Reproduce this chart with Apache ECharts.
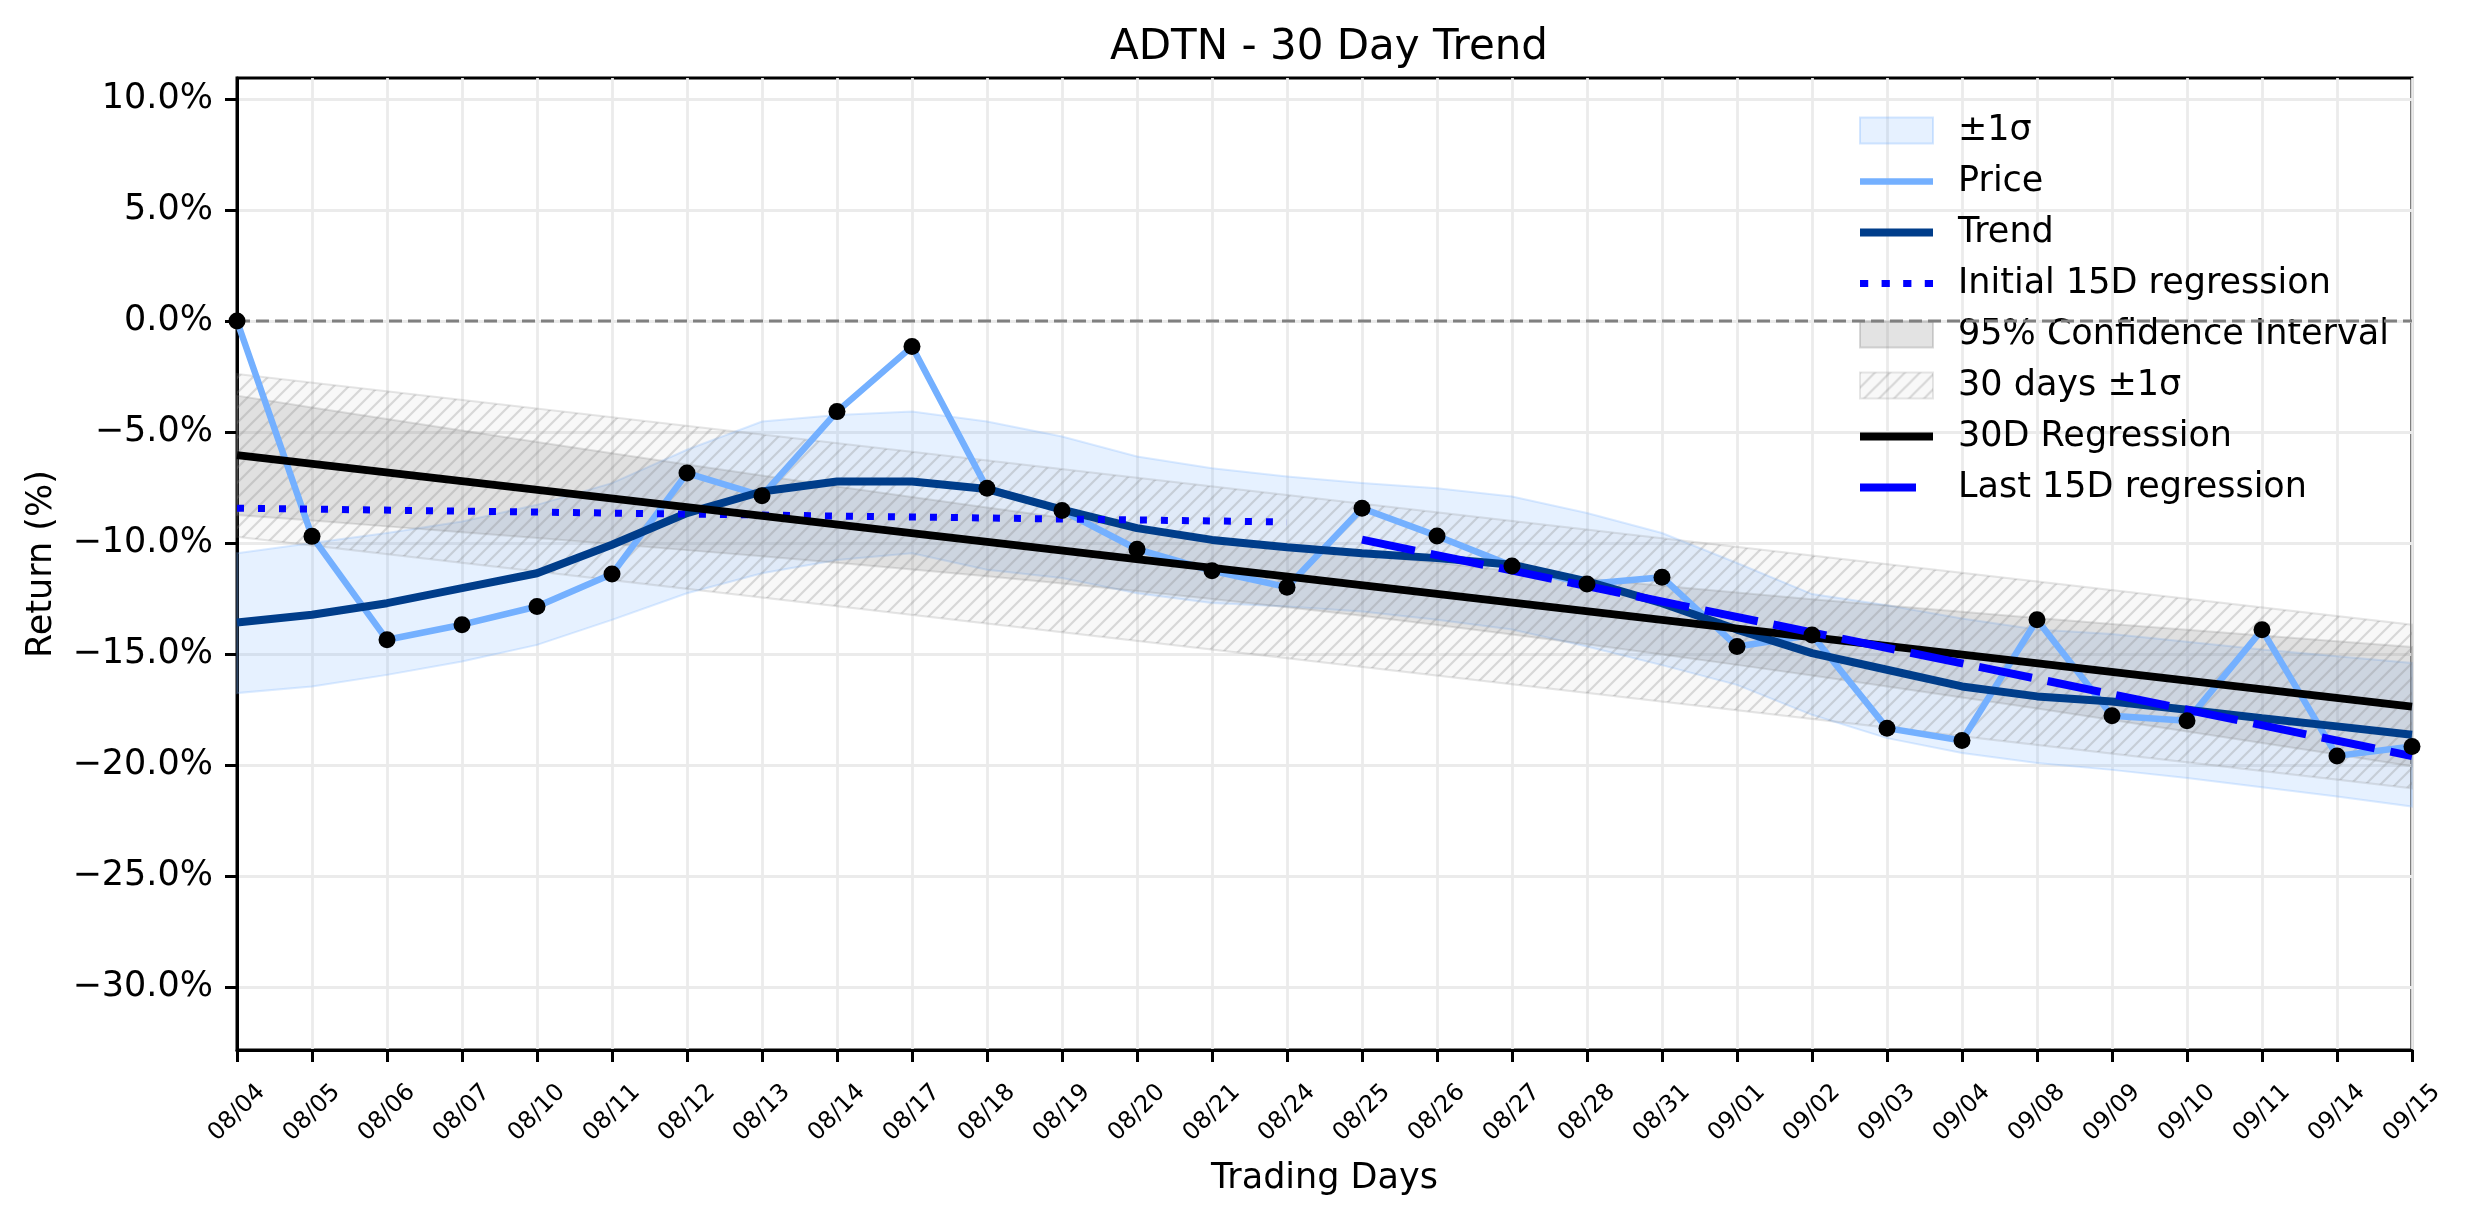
<!DOCTYPE html>
<html><head><meta charset="utf-8">
<script src="https://cdn.jsdelivr.net/npm/echarts@6/dist/echarts.min.js"></script>
<style>html,body{margin:0;padding:0;background:#fff}#c{width:2474px;height:1224px}</style>
</head><body><div id="c"></div>
<script>
// ---- data ----
const categories = ['08/04','08/05','08/06','08/07','08/10','08/11','08/12','08/13','08/14','08/17','08/18','08/19','08/20','08/21','08/24','08/25','08/26','08/27','08/28','08/31','09/01','09/02','09/03','09/04','09/08','09/09','09/10','09/11','09/14','09/15'];
const price = [0, -9.7, -14.36, -13.68, -12.86, -11.4, -6.85, -7.87, -4.08, -1.15, -7.53, -8.53, -10.28, -11.25, -11.99, -8.43, -9.68, -11.03, -11.85, -11.54, -14.66, -14.14, -18.34, -18.9, -13.46, -17.78, -18.01, -13.91, -19.59, -19.17];
const trend = [-13.58, -13.23, -12.71, -12.03, -11.36, -10.08, -8.65, -7.68, -7.23, -7.23, -7.57, -8.5, -9.33, -9.86, -10.19, -10.46, -10.68, -10.98, -11.73, -12.71, -13.9, -14.96, -15.71, -16.46, -16.91, -17.14, -17.51, -17.89, -18.26, -18.64];
const sigmaUpper = [-10.46, -10.0, -9.55, -9.03, -8.28, -7.3, -5.8, -4.53, -4.23, -4.08, -4.53, -5.2, -6.1, -6.63, -7.0, -7.3, -7.53, -7.9, -8.65, -9.55, -10.9, -12.3, -12.8, -13.4, -13.9, -14.1, -14.45, -14.8, -15.1, -15.4];
const sigmaLower = [-16.76, -16.46, -15.94, -15.34, -14.59, -13.46, -12.26, -11.36, -10.76, -10.46, -11.2, -11.58, -12.26, -12.7, -12.86, -13.08, -13.46, -13.9, -14.66, -15.5, -16.39, -17.74, -18.79, -19.46, -19.91, -20.22, -20.59, -21.0, -21.42, -21.87];
const ciUpper = [-3.36, -3.89, -4.41, -4.93, -5.45, -5.96, -6.46, -6.96, -7.45, -7.93, -8.40, -8.86, -9.30, -9.72, -10.13, -10.52, -10.89, -11.26, -11.60, -11.92, -12.23, -12.53, -12.82, -13.10, -13.38, -13.65, -13.91, -14.17, -14.43, -14.68];
const ciLower = [-8.74, -8.99, -9.25, -9.51, -9.77, -10.04, -10.32, -10.60, -10.89, -11.19, -11.50, -11.82, -12.16, -12.52, -12.89, -13.28, -13.69, -14.12, -14.56, -15.02, -15.49, -15.97, -16.46, -16.96, -17.46, -17.97, -18.49, -19.01, -19.53, -20.06];
const reg30Ends = [-6.04, -17.37];          // first day, last day
const band30UpperEnds = [-2.38, -13.68];
const band30LowerEnds = [-9.72, -21.05];
const initialRegEnds = [-8.43, -9.05];      // 08/04 .. 08/24
const lastRegEnds = [-9.85, -19.6];         // 08/25 .. 09/15
const yTickValues = [-30, -25, -20, -15, -10, -5, 0, 5, 10];

// ---- helpers ----
const FONT = 'DejaVu Sans';
const last = categories.length - 1;
const allIdx = categories.map((_, i) => i);

const T = 15;
const hc = document.createElement('canvas');
hc.width = T; hc.height = T;
const g = hc.getContext('2d');
g.fillStyle = 'rgba(128,128,128,0.06)'; g.fillRect(0, 0, T, T);
g.strokeStyle = 'rgba(128,128,128,0.28)'; g.lineWidth = 2.2;
g.beginPath();
g.moveTo(-1, T + 1); g.lineTo(T + 1, -1);
g.moveTo(-T / 2, T / 2); g.lineTo(T / 2, -T / 2);
g.moveTo(T / 2, T * 1.5); g.lineTo(T * 1.5, T / 2);
g.stroke();
const hatch = { image: hc, repeat: 'repeat' };

function band(name, xs, upper, lower, fill, stroke, z) {
  return {
    name: name, type: 'custom', coordinateSystem: 'cartesian2d', z: z, silent: true,
    data: [[xs[0], upper[0]]],
    itemStyle: { color: fill },
    renderItem: function (params, api) {
      const pts = [];
      for (let k = 0; k < xs.length; k++) pts.push(api.coord([xs[k], upper[k]]));
      for (let k = xs.length - 1; k >= 0; k--) pts.push(api.coord([xs[k], lower[k]]));
      return { type: 'polygon', shape: { points: pts }, style: { fill: fill, stroke: stroke, lineWidth: 2 } };
    }
  };
}
function seg(x0, x1, ends) { return [[x0, ends[0]], [x1, ends[1]]]; }

const C_PRICE = '#74b0ff', C_TREND = '#003d8a', C_REG = '#0000ff';
const lineIcon = w => 'path://M0,0h73v' + w + 'h-73z';
const dotIcon = 'path://M0,0h8v7h-8zM21,0h8v7h-8zM42,0h8v7h-8zM63,0h8v7h-8z';
const dashIcon = 'path://M0,0h56v8h-56zM72.6,3.9h0.4v0.2h-0.4z';

const chart = echarts.init(document.getElementById('c'), null, { renderer: 'canvas' });
chart.setOption({
  animation: false,
  backgroundColor: '#fff',
  title: {
    text: 'ADTN - 30 Day Trend', left: 1324, top: 22, textAlign: 'center',
    textStyle: { fontFamily: FONT, fontSize: 42, fontWeight: 'normal', color: '#000' }
  },
  grid: { left: 237, right: 62, top: 78, bottom: 174, show: true, borderColor: '#000', borderWidth: 3, containLabel: false, outerBoundsMode: 'none' },
  legend: {
    orient: 'vertical', left: 1854, top: 108, itemWidth: 73, itemHeight: 26, itemGap: 16,
    symbolKeepAspect: true,
    textStyle: { fontFamily: FONT, fontSize: 35, color: '#000', padding: [0, 0, 0, 20] },
    data: [
      { name: '±1σ', icon: 'rect', itemStyle: { color: 'rgba(116,176,255,0.18)', borderColor: 'rgba(116,176,255,0.3)', borderWidth: 2 } },
      { name: 'Price', icon: lineIcon(6.5), itemStyle: { color: C_PRICE, borderWidth: 0 } },
      { name: 'Trend', icon: lineIcon(8), itemStyle: { color: C_TREND, borderWidth: 0 } },
      { name: 'Initial 15D regression', icon: dotIcon, itemStyle: { color: C_REG, borderWidth: 0 } },
      { name: '95% Confidence Interval', icon: 'rect', itemStyle: { color: 'rgba(128,128,128,0.22)', borderColor: 'rgba(128,128,128,0.3)', borderWidth: 2 } },
      { name: '30 days ±1σ', icon: 'rect', itemStyle: { color: hatch, borderColor: 'rgba(128,128,128,0.2)', borderWidth: 2 } },
      { name: '30D Regression', icon: lineIcon(8), itemStyle: { color: '#000', borderWidth: 0 } },
      { name: 'Last 15D regression', icon: dashIcon, itemStyle: { color: C_REG, borderWidth: 0 } }
    ]
  },
  xAxis: {
    type: 'category', data: categories, boundaryGap: false,
    name: 'Trading Days', nameLocation: 'middle', nameGap: 111,
    nameTextStyle: { fontFamily: FONT, fontSize: 35, color: '#000' },
    axisLine: { show: true, onZero: false, lineStyle: { color: '#000', width: 3 } },
    axisTick: { show: true, interval: 0, length: 12, lineStyle: { color: '#000', width: 3 } },
    axisLabel: { interval: 0, rotate: 45, fontFamily: FONT, fontSize: 24, color: '#000', margin: 63, align: 'center', verticalAlign: 'middle' },
    splitLine: { show: true, interval: 0, lineStyle: { color: '#ebebeb', width: 2.8 } }
  },
  yAxis: {
    type: 'value', min: -32.84, max: 10.95, splitNumber: 8,
    name: 'Return (%)', nameLocation: 'middle', nameGap: 178, nameRotate: 90,
    nameTextStyle: { fontFamily: FONT, fontSize: 35, color: '#000' },
    axisLine: { show: true, lineStyle: { color: '#000', width: 3 } },
    axisTick: { show: true, length: 12, lineStyle: { color: '#000', width: 3 }, customValues: yTickValues },
    axisLabel: {
      fontFamily: FONT, fontSize: 35, color: '#000', margin: 24, customValues: yTickValues,
      formatter: v => (v < 0 ? '\u2212' : '') + Math.abs(v).toFixed(1) + '%'
    },
    splitLine: { show: true, lineStyle: { color: '#ebebeb', width: 2.8 } }
  },
  series: [
    band('±1σ', allIdx, sigmaUpper, sigmaLower, 'rgba(116,176,255,0.18)', 'rgba(116,176,255,0.25)', 1),
    band('95% Confidence Interval', allIdx, ciUpper, ciLower, 'rgba(128,128,128,0.2)', 'rgba(128,128,128,0.22)', 2),
    band('30 days ±1σ', [0, last], band30UpperEnds, band30LowerEnds, hatch, 'rgba(128,128,128,0.2)', 3),
    { name: 'zero', type: 'line', data: [[0, 0], [last, 0]], symbol: 'none', z: 4, silent: true,
      lineStyle: { color: '#808080', width: 3, type: [13, 6] } },
    { name: 'Price', type: 'line', data: price, symbol: 'none', z: 5,
      lineStyle: { color: C_PRICE, width: 6.5 }, itemStyle: { color: C_PRICE } },
    { name: 'Trend', type: 'line', data: trend, symbol: 'none', z: 5,
      lineStyle: { color: C_TREND, width: 8 }, itemStyle: { color: C_TREND } },
    { name: 'Initial 15D regression', type: 'line', data: seg(0, 14, initialRegEnds), symbol: 'none', z: 6,
      lineStyle: { color: C_REG, width: 7, type: [7, 14] }, itemStyle: { color: C_REG } },
    { name: '30D Regression', type: 'line', data: seg(0, last, reg30Ends), symbol: 'none', z: 6,
      lineStyle: { color: '#000000', width: 8 }, itemStyle: { color: '#000000' } },
    { name: 'Last 15D regression', type: 'line', data: seg(15, last, lastRegEnds), symbol: 'none', z: 6,
      lineStyle: { color: C_REG, width: 8, type: [54, 16] }, itemStyle: { color: C_REG } },
    { name: 'points', type: 'scatter', data: price, symbol: 'circle', symbolSize: 17, z: 8,
      itemStyle: { color: '#000', opacity: 1 } }
  ]
});
</script></body></html>
